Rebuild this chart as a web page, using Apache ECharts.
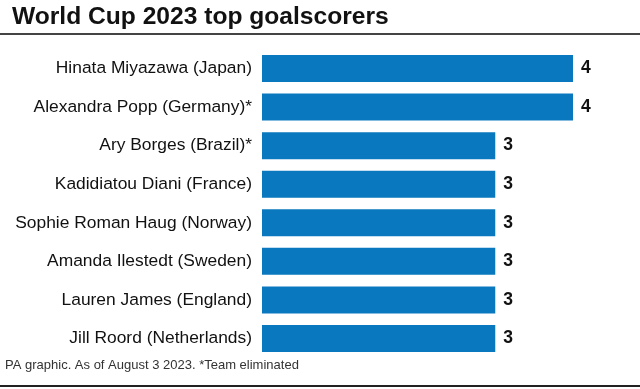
<!DOCTYPE html>
<html>
<head>
<meta charset="utf-8">
<script src="https://cdn.jsdelivr.net/npm/echarts@6/dist/echarts.min.js"></script>
<style>html,body{margin:0;padding:0;background:#fff}#c{width:640px;height:389px}</style>
</head>
<body>
<div id="c"></div>
<script>
const categories = [
  "Hinata Miyazawa (Japan)",
  "Alexandra Popp (Germany)*",
  "Ary Borges (Brazil)*",
  "Kadidiatou Diani (France)",
  "Sophie Roman Haug (Norway)",
  "Amanda Ilestedt (Sweden)",
  "Lauren James (England)",
  "Jill Roord (Netherlands)"
];
const goals = [4, 4, 3, 3, 3, 3, 3, 3];
const titleText = "World Cup 2023 top goalscorers";
const footerText = "PA graphic. As of August 3 2023. *Team eliminated";

const chart = echarts.init(document.getElementById('c'), null, {renderer: 'canvas'});
const font = "'Liberation Sans', Arial, Helvetica, sans-serif";
chart.setOption({
  animation: false,
  textStyle: {fontFamily: font},
  title: {
    text: titleText, left: 7, top: 0,
    textStyle: {fontSize: 24.6, fontWeight: 'bold', color: '#111', fontFamily: font}
  },
  graphic: [
    {type: 'line', shape: {x1: 0, y1: 34, x2: 640, y2: 34}, style: {stroke: '#444', lineWidth: 2}},
    {type: 'line', shape: {x1: 0, y1: 386, x2: 640, y2: 386}, style: {stroke: '#222', lineWidth: 2}},
    {type: 'text', left: 5, top: 359, style: {text: footerText, fontSize: 13, fill: '#333', fontFamily: font}}
  ],
  grid: {left: 262, right: 67, top: 49.2, height: 308.6, containLabel: false},
  xAxis: {
    type: 'value', min: 0, max: 4, show: false
  },
  yAxis: {
    type: 'category', inverse: true, data: categories,
    axisLine: {show: false}, axisTick: {show: false},
    axisLabel: {fontSize: 17.4, color: '#111', margin: 10, fontFamily: font}
  },
  series: [{
    type: 'bar', data: goals, barCategoryGap: '30%',
    itemStyle: {color: '#0a78be'},
    label: {show: true, position: 'right', distance: 8, fontSize: 17.5, fontWeight: 'bold', color: '#111', fontFamily: font}
  }]
});
</script>
</body>
</html>
